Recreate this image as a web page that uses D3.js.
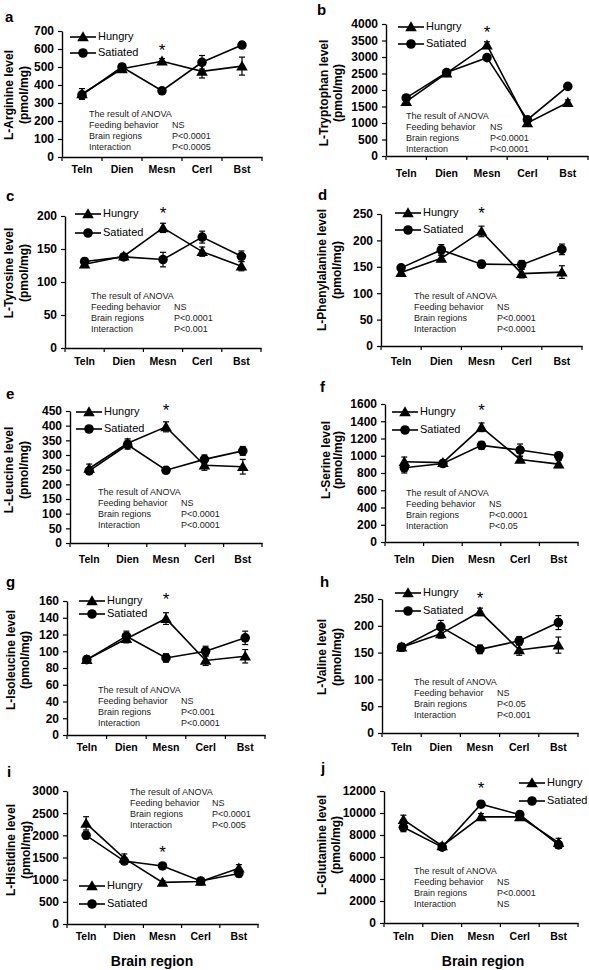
<!DOCTYPE html>
<html><head><meta charset="utf-8">
<script src="https://cdn.jsdelivr.net/npm/d3@7"></script>
<style>body{margin:0;background:#fff}svg{display:block}</style>
</head><body><svg id="c" width="589" height="970"></svg>
<script>
const regions = ["Teln","Dien","Mesn","Cerl","Bst"];
const seriesNames = ["Hungry","Satiated"];

const arginineHungry = [350, 490, 532, 476, 505];
const arginineHungrySE = [30, 15, 15, 37, 50];
const arginineSatiated = [345, 500, 368, 526, 622];
const arginineSatiatedSE = [15, 15, 15, 38, 18];

const tryptophanHungry = [1650, 2510, 3360, 1000, 1620];
const tryptophanHungrySE = [60, 50, 100, 60, 80];
const tryptophanSatiated = [1760, 2530, 2980, 1100, 2110];
const tryptophanSatiatedSE = [50, 50, 40, 50, 50];

const tyrosineHungry = [127, 139, 182, 146, 124];
const tyrosineHungrySE = [5, 4, 7, 7, 7];
const tyrosineSatiated = [131, 138, 134, 168, 139];
const tyrosineSatiatedSE = [5, 4, 11, 9, 8];

const phenylalanineHungry = [139, 166, 217, 137, 140];
const phenylalanineHungrySE = [6, 6, 10, 8, 12];
const phenylalanineSatiated = [148, 182, 155, 154, 183];
const phenylalanineSatiatedSE = [5, 10, 7, 8, 10];

const leucineHungry = [254, 340, 396, 265, 260];
const leucineHungrySE = [15, 15, 17, 17, 25];
const leucineSatiated = [246, 335, 248, 285, 314];
const leucineSatiatedSE = [8, 15, 6, 15, 15];

const serineHungry = [930, 920, 1330, 957, 903];
const serineHungrySE = [55, 30, 50, 35, 40];
const serineSatiated = [860, 910, 1120, 1066, 1000];
const serineSatiatedSE = [60, 30, 45, 70, 35];

const isoleucineHungry = [90, 115, 139, 89, 94];
const isoleucineHungrySE = [4, 5, 7, 6, 8];
const isoleucineSatiated = [90, 118, 92, 100, 116];
const isoleucineSatiatedSE = [4, 6, 5, 6, 8];

const valineHungry = [160, 185, 226, 155, 164];
const valineHungrySE = [7, 8, 7, 10, 15];
const valineSatiated = [160, 198, 156, 172, 206];
const valineSatiatedSE = [7, 12, 8, 8, 13];

const histidineHungry = [2270, 1480, 940, 960, 1260];
const histidineHungrySE = [150, 100, 40, 40, 80];
const histidineSatiated = [2000, 1420, 1310, 970, 1140];
const histidineSatiatedSE = [80, 70, 40, 40, 80];

const glutamineHungry = [9400, 7000, 9650, 9650, 7300];
const glutamineHungrySE = [400, 250, 300, 300, 400];
const glutamineSatiated = [8700, 6900, 10800, 9850, 7100];
const glutamineSatiatedSE = [400, 250, 300, 300, 300];

const panelLetters = ["a","b","c","d","e","f","g","h","i","j"];
const yTitles = ["L-Arginine level","L-Tryptophan level","L-Tyrosine level","L-Phenylalanine level",
  "L-Leucine level","L-Serine level","L-Isoleucine level","L-Valine level","L-Histidine level","L-Glutamine level"];
const yUnit = "(pmol/mg)";
const yMax = [700, 4000, 200, 250, 450, 1600, 160, 250, 3000, 12000];
const yStep = [100, 500, 50, 50, 50, 200, 20, 50, 500, 2000];
const anovaFeeding = ["NS","NS","NS","NS","NS","NS","NS","NS","NS","NS"];
const anovaRegions = ["P<0.0001","P<0.0001","P<0.0001","P<0.0001","P<0.0001","P<0.0001","P<0.001","P<0.05","P<0.0001","P<0.0001"];
const anovaInteraction = ["P<0.0005","P<0.0001","P<0.001","P<0.0001","P<0.0001","P<0.05","P<0.0001","P<0.001","P<0.005","NS"];
const significantRegion = "Mesn";
const xTitle = "Brain region";

const hungrySets = [
  [arginineHungry, arginineHungrySE],[tryptophanHungry, tryptophanHungrySE],[tyrosineHungry, tyrosineHungrySE],
  [phenylalanineHungry, phenylalanineHungrySE],[leucineHungry, leucineHungrySE],[serineHungry, serineHungrySE],
  [isoleucineHungry, isoleucineHungrySE],[valineHungry, valineHungrySE],[histidineHungry, histidineHungrySE],
  [glutamineHungry, glutamineHungrySE]];
const satiatedSets = [
  [arginineSatiated, arginineSatiatedSE],[tryptophanSatiated, tryptophanSatiatedSE],[tyrosineSatiated, tyrosineSatiatedSE],
  [phenylalanineSatiated, phenylalanineSatiatedSE],[leucineSatiated, leucineSatiatedSE],[serineSatiated, serineSatiatedSE],
  [isoleucineSatiated, isoleucineSatiatedSE],[valineSatiated, valineSatiatedSE],[histidineSatiated, histidineSatiatedSE],
  [glutamineSatiated, glutamineSatiatedSE]];

// layout (positions only)
const layout = [
  {axL:62, axR:262, yT:31, yB:157, lab:[5,22], tx:[10,25], ty:95, lg:[70,37,53], an:[89,172,115], star:50, xl:173},
  {axL:386, axR:588, yT:24, yB:156, lab:[317,15], tx:[325,339], ty:93, lg:[398,27,44], an:[406,490,117], star:32, xl:177},
  {axL:65, axR:261, yT:216, yB:348, lab:[6,201], tx:[10,25], ty:273, lg:[75,214,233], an:[91,174,297], star:213, xl:365},
  {axL:381, axR:582, yT:214, yB:346, lab:[318,200], tx:[323,338], ty:270, lg:[395,213,230], an:[414,497,297], star:213, xl:365},
  {axL:70, axR:262, yT:411, yB:543, lab:[6,399], tx:[10,25], ty:470, lg:[76,412,429], an:[98,181,493], star:410, xl:563},
  {axL:385, axR:578, yT:404, yB:542, lab:[320,392], tx:[327,339], ty:460, lg:[392,412,430], an:[406,489,494], star:410, xl:563},
  {axL:67, axR:265, yT:601, yB:735, lab:[6,587], tx:[12,26], ty:660, lg:[79,601,614], an:[98,181,691], star:599, xl:751},
  {axL:382, axR:578, yT:599, yB:733, lab:[320,587], tx:[323,338], ty:657, lg:[395,593,611], an:[414,497,683], star:598, xl:751},
  {axL:67, axR:258, yT:791, yB:924, lab:[7,777], tx:[12,27], ty:850, lg:[79,886,904], an:[130,212,793], star:852, xl:940, bt:[152,966]},
  {axL:384, axR:578, yT:791, yB:923, lab:[321,773], tx:[323,337], ty:845, lg:[519,783,801], an:[414,497,872], star:788, xl:940, bt:[483,966]}
];

const svg = d3.select("#c");
const FONT = "Arial, 'Liberation Sans', Helvetica, sans-serif";
const triangle = d3.symbol().type(d3.symbolTriangle).size(58);
const circle = d3.symbol().type(d3.symbolCircle).size(72);
const shapes = [triangle, circle];

layout.forEach((L, i) => {
  const g = svg.append("g").attr("font-family", FONT);
  const x = d3.scaleBand().domain(regions).range([L.axL, L.axR]);
  const y = d3.scaleLinear().domain([0, yMax[i]]).range([L.yB, L.yT]);

  // y axis
  const ya = g.append("g").attr("transform", `translate(${L.axL},0)`)
    .call(d3.axisLeft(y).tickValues(d3.range(0, yMax[i] + yStep[i] / 2, yStep[i]))
      .tickSize(4).tickSizeOuter(0).tickPadding(4).tickFormat(d3.format("d")));
  ya.select(".domain").attr("stroke", "#000").attr("stroke-width", 1.4);
  ya.selectAll(".tick line").attr("stroke", "#000").attr("stroke-width", 1.2);
  ya.selectAll(".tick text").attr("font-size", 12).attr("font-weight", "bold").attr("fill", "#000").attr("font-family", FONT);

  // x axis
  const xa = g.append("g").attr("transform", `translate(0,${L.yB})`)
    .call(d3.axisBottom(x).tickSize(0).tickSizeOuter(0).tickPadding(0));
  xa.select(".domain").attr("stroke", "#000").attr("stroke-width", 1.4);
  xa.selectAll(".tick text").attr("font-size", 10.5).attr("font-weight", "bold").attr("fill", "#000")
    .attr("font-family", FONT).attr("dy", null).attr("y", L.xl - L.yB);
  const bounds = regions.map(r => x(r)).concat([L.axR]);
  g.selectAll(null).data(bounds).enter().append("line")
    .attr("x1", d => d).attr("x2", d => d).attr("y1", L.yB).attr("y2", L.yB + 4)
    .attr("stroke", "#000").attr("stroke-width", 1.2);

  // y title
  [yTitles[i], yUnit].forEach((t, k) => {
    g.append("text").attr("transform", `translate(${L.tx[k]},${L.ty}) rotate(-90)`)
      .attr("text-anchor", "middle").attr("dominant-baseline", "middle")
      .attr("font-size", 12).attr("font-weight", "bold").text(t);
  });

  // panel letter
  g.append("text").attr("x", L.lab[0]).attr("y", L.lab[1]).attr("font-size", 15)
    .attr("font-weight", "bold").text(panelLetters[i]);

  // series
  [hungrySets[i], satiatedSets[i]].forEach((set, s) => {
    const [vals, se] = set;
    const pts = regions.map((r, k) => ({r, v: vals[k], e: se[k]}));
    const cx = d => x(d.r) + x.bandwidth() / 2;
    g.append("path").datum(pts)
      .attr("d", d3.line().x(cx).y(d => y(d.v)))
      .attr("fill", "none").attr("stroke", "#000").attr("stroke-width", 1.6);
    const eb = g.selectAll(null).data(pts).enter().append("g");
    eb.append("line").attr("x1", cx).attr("x2", cx).attr("y1", d => y(d.v - d.e)).attr("y2", d => y(d.v + d.e))
      .attr("stroke", "#000").attr("stroke-width", 1.2);
    [1, -1].forEach(sg => {
      eb.append("line").attr("x1", d => cx(d) - 3).attr("x2", d => cx(d) + 3)
        .attr("y1", d => y(d.v + sg * d.e)).attr("y2", d => y(d.v + sg * d.e))
        .attr("stroke", "#000").attr("stroke-width", 1.2);
    });
    g.selectAll(null).data(pts).enter().append("path")
      .attr("d", shapes[s]).attr("transform", d => `translate(${cx(d)},${y(d.v) + (s === 0 ? 1 : 0)})`)
      .attr("fill", "#000");
  });

  // legend
  seriesNames.forEach((name, s) => {
    const ly = L.lg[1 + s], lx = L.lg[0];
    g.append("line").attr("x1", lx).attr("x2", lx + 26).attr("y1", ly).attr("y2", ly)
      .attr("stroke", "#000").attr("stroke-width", 1.6);
    g.append("path").attr("d", shapes[s]).attr("transform", `translate(${lx + 13},${ly + (s === 0 ? 1 : 0)})`).attr("fill", "#000");
    g.append("text").attr("x", lx + 28).attr("y", ly).attr("dominant-baseline", "middle")
      .attr("font-size", 11).text(name);
  });

  // asterisk
  g.append("text").attr("x", x(significantRegion) + x.bandwidth() / 2).attr("y", L.star + 6)
    .attr("text-anchor", "middle").attr("font-size", 17).text("*");

  // ANOVA text
  const rows = [["The result of ANOVA", ""], ["Feeding behavior", anovaFeeding[i]],
    ["Brain regions", anovaRegions[i]], ["Interaction", anovaInteraction[i]]];
  rows.forEach((r, k) => {
    const yy = L.an[2] + k * 10.9;
    g.append("text").attr("x", L.an[0]).attr("y", yy).attr("dominant-baseline", "middle")
      .attr("font-size", 9).attr("fill", "#222").text(r[0]);
    if (r[1]) g.append("text").attr("x", L.an[1]).attr("y", yy).attr("dominant-baseline", "middle")
      .attr("font-size", 9).attr("fill", "#222").text(r[1]);
  });

  if (L.bt) {
    g.append("text").attr("x", L.bt[0]).attr("y", L.bt[1]).attr("text-anchor", "middle")
      .attr("font-size", 14).attr("font-weight", "bold").text(xTitle);
  }
});
</script>
</body></html>
